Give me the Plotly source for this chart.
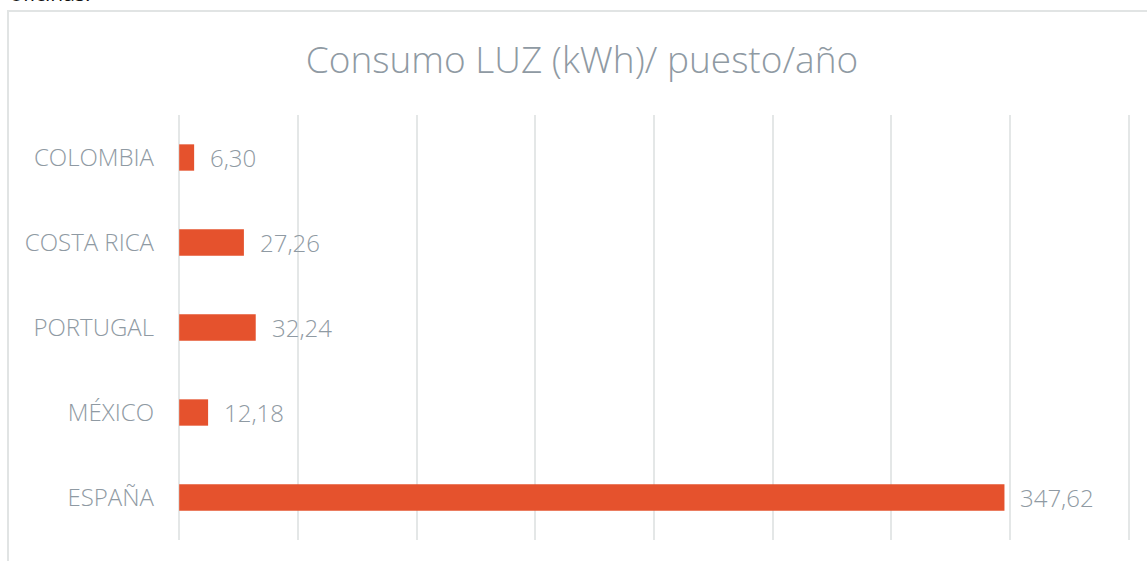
import plotly.graph_objects as go

categories = ["COLOMBIA", "COSTA RICA", "PORTUGAL", "MÉXICO", "ESPAÑA"]
values = [6.30, 27.26, 32.24, 12.18, 347.62]
title_text = "Consumo LUZ (kWh)/ puesto/año"

BAR = "#E5522D"
TXT = "#8F9AA3"
GRID = "#E4E7E7"
FONT = "Open Sans"

W, H = 1147, 561
PAD = 0.5  # axis units added on each end so edge gridlines are drawn
UNIT = 950 / 400
L = round(179 - PAD * UNIT)
R = round(18 - PAD * UNIT)
T, B = 115, 21
pw, ph = W - L - R, H - T - B

def px_to_paper_x(px):
    return (px - L) / pw

def px_to_paper_y(py):
    return 1 - (py - T) / ph

fig = go.Figure()
fig.add_trace(go.Bar(
    x=values, y=categories, orientation="h",
    marker=dict(color=BAR, line=dict(width=0)),
    width=0.31, hoverinfo="skip",
))

for c, v in zip(categories, values):
    fig.add_annotation(
        x=v, y=c, xref="x", yref="y",
        text=f"{v:.2f}".replace(".", ","),
        showarrow=False, xanchor="left", yanchor="middle", xshift=14,
        font=dict(family=FONT, size=24, color=TXT, weight=300),
    )

# partially visible text above the chart box
fig.add_annotation(
    x=px_to_paper_x(8), y=px_to_paper_y(9), xref="paper", yref="paper",
    text="oficinas.", showarrow=False, xanchor="left", yanchor="bottom",
    font=dict(family=FONT, size=21, color="#111111"),
)

# chart outer border
fig.add_shape(
    type="rect", xref="paper", yref="paper",
    x0=px_to_paper_x(8), x1=px_to_paper_x(1160),
    y0=px_to_paper_y(600), y1=px_to_paper_y(11),
    line=dict(color="#E1E4E4", width=2), fillcolor="rgba(0,0,0,0)", layer="below",
)

fig.update_layout(
    width=W, height=H,
    margin=dict(l=L, r=R, t=T, b=B, pad=0),
    paper_bgcolor="white", plot_bgcolor="white",
    showlegend=False,
    title=dict(
        text=title_text, x=(582) / W, xanchor="center",
        y=1 - 60 / H, yanchor="middle",
        font=dict(family=FONT, size=37, color=TXT, weight=300),
    ),
    xaxis=dict(
        range=[-PAD, 400 + PAD], dtick=50, tick0=0,
        showgrid=True, gridcolor=GRID, gridwidth=2,
        zeroline=False, showline=False, showticklabels=False, ticks="",
        fixedrange=True,
    ),
    yaxis=dict(
        categoryorder="array", categoryarray=categories, autorange="reversed",
        showgrid=False, zeroline=False, showline=False, ticks="",
        ticklabelstandoff=23,
        tickfont=dict(family=FONT, size=24, color=TXT, weight=300),
        fixedrange=True,
    ),
)

fig.write_html(
    "out.html",
    config={"displayModeBar": False, "staticPlot": True},
    post_script="document.body.style.margin='0';document.body.style.overflow='hidden';",
)
